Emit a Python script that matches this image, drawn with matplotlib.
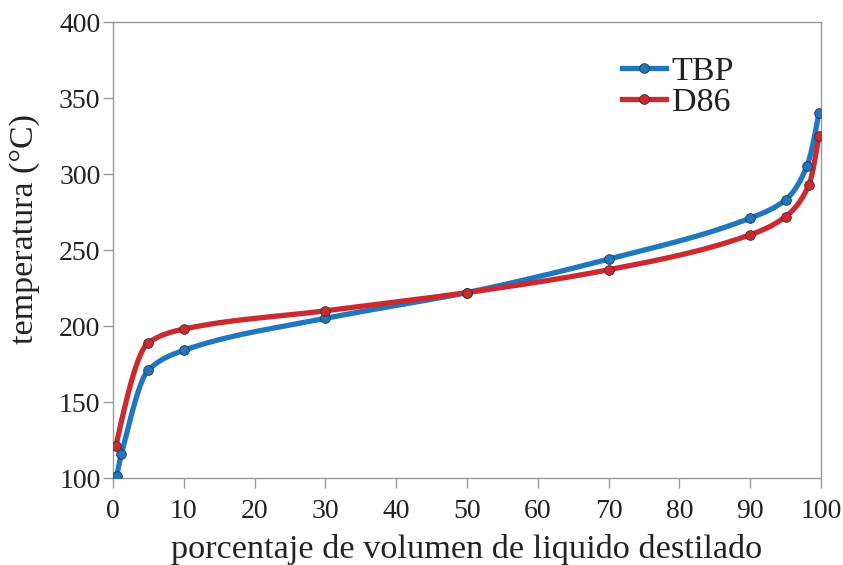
import numpy as np
import matplotlib
matplotlib.use("Agg")
import matplotlib.pyplot as plt
from matplotlib.lines import Line2D

# Data
tbp_x = [0.5, 1.2, 5, 10, 30, 50, 70, 90, 95, 98, 99.7]
tbp_y = [101, 116, 171, 184, 205, 222, 244, 271, 283, 305, 340]
d86_x = [0.4, 5, 10, 30, 50, 70, 90, 95, 98.3, 99.7]
d86_y = [121, 189, 198, 210, 222, 237, 260, 272, 293, 325]

x_ticks = [0, 10, 20, 30, 40, 50, 60, 70, 80, 90, 100]
y_ticks = [100, 150, 200, 250, 300, 350, 400]

blue = "#1f77bf"
red = "#cc2a2f"


def pchip(x, y, xs):
    x = np.asarray(x, float)
    y = np.asarray(y, float)
    h = np.diff(x)
    d = np.diff(y) / h
    n = len(x)
    m = np.zeros(n)
    for k in range(1, n - 1):
        if d[k - 1] * d[k] <= 0:
            m[k] = 0
        else:
            w1 = 2 * h[k] + h[k - 1]
            w2 = h[k] + 2 * h[k - 1]
            m[k] = (w1 + w2) / (w1 / d[k - 1] + w2 / d[k])
    m[0] = ((2 * h[0] + h[1]) * d[0] - h[0] * d[1]) / (h[0] + h[1])
    if np.sign(m[0]) != np.sign(d[0]):
        m[0] = 0
    elif np.sign(d[0]) != np.sign(d[1]) and abs(m[0]) > abs(3 * d[0]):
        m[0] = 3 * d[0]
    m[-1] = ((2 * h[-1] + h[-2]) * d[-1] - h[-1] * d[-2]) / (h[-1] + h[-2])
    if np.sign(m[-1]) != np.sign(d[-1]):
        m[-1] = 0
    elif np.sign(d[-1]) != np.sign(d[-2]) and abs(m[-1]) > abs(3 * d[-1]):
        m[-1] = 3 * d[-1]
    idx = np.clip(np.searchsorted(x, xs) - 1, 0, n - 2)
    t = (xs - x[idx]) / h[idx]
    h00 = 2 * t**3 - 3 * t**2 + 1
    h10 = t**3 - 2 * t**2 + t
    h01 = -2 * t**3 + 3 * t**2
    h11 = t**3 - t**2
    return h00 * y[idx] + h10 * h[idx] * m[idx] + h01 * y[idx + 1] + h11 * h[idx] * m[idx + 1]


plt.rcParams['font.family'] = ['Liberation Serif', 'DejaVu Serif']
fig = plt.figure(figsize=(8.43, 5.65), dpi=100)
ax = fig.add_axes([113 / 843, 1 - 478 / 565, (821 - 113) / 843, (478 - 22) / 565])

for xs_, ys_, c in [(tbp_x, tbp_y, blue), (d86_x, d86_y, red)]:
    xx = np.linspace(xs_[0], xs_[-1], 600)
    ax.plot(xx, pchip(xs_, ys_, xx), color=c, lw=3.8, solid_capstyle='round', zorder=2)
    ax.plot(xs_, ys_, 'o', color=c, ms=7, mec='#333333', mew=0.6, zorder=3)

ax.set_xlim(0, 100)
ax.set_ylim(100, 400)
ax.set_xticks(x_ticks)
ax.set_yticks(y_ticks)
for s in ax.spines.values():
    s.set_color('#999999')
    s.set_linewidth(1.0)
ax.tick_params(axis='both', colors='#999999', labelcolor='#222222', labelsize=20,
               length=7, width=1.0, direction='out')
ax.tick_params(axis='y', pad=2)
ax.tick_params(axis='x', pad=8)
ax.set_xlabel('porcentaje de volumen de liquido destilado', fontsize=24.7, color='#222222', labelpad=7)
ax.set_ylabel('temperatura (°C)', fontsize=24.5, color='#222222')
ax.yaxis.set_label_coords(-0.103, 0.546)

handles = [Line2D([], [], color=blue, lw=3.8, marker='o', ms=7, mec='#333333', mew=0.6),
           Line2D([], [], color=red, lw=3.8, marker='o', ms=7, mec='#333333', mew=0.6)]
leg = ax.legend(handles, ['TBP', 'D86'], loc='upper left', bbox_to_anchor=(0.70, 0.955),
                frameon=False, fontsize=24.5, handlelength=1.3, handletextpad=0.15,
                labelspacing=0.0, borderaxespad=0)
for t in leg.get_texts():
    t.set_color('#222222')

fig.savefig('out.png', dpi=100)
